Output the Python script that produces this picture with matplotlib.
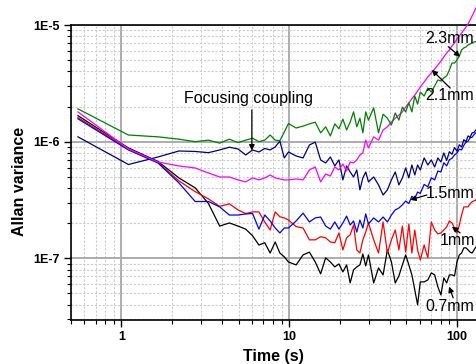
import matplotlib
matplotlib.use("Agg")
import matplotlib.pyplot as plt
from matplotlib.ticker import FixedLocator, NullFormatter, LogLocator

plt.rcParams['font.family'] = ['Liberation Sans', 'DejaVu Sans']

# ---------------- data (Allan variance in units of 1e-7) ----------------
SCALE = 1e-7

TAU = [0.55, 1.1, 1.65, 2.2, 2.75, 3.3, 3.85, 4.4, 4.95, 5.5,
       6.05, 6.6, 7.15, 7.7, 8.25, 8.8, 9.35, 9.9, 11, 12.1,
       13.2, 14.3, 15.4, 16.5, 17.6, 18.7, 19.8, 20.9, 22, 23.1,
       24.2, 25.3, 26.4, 27.5, 28.6, 29.7, 31.9, 34.1, 36.3, 38.5,
       40.7, 42.9, 45.1, 47.3, 49.5, 51.7, 53.9, 56.1, 58.3, 60.5,
       63.8, 67.1, 70.4, 73.7, 77, 80.3, 83.6, 86.9, 90.2, 93.5,
       96.8, 100.1, 103.4, 106.7, 110, 113.3, 116.6, 119.9, 123.2, 126.5,
       129.8]

mm07 = [16.7, 8.83, 6.77, 4.89, 4.02, 2.95, 1.89, 2.01, 1.89, 1.78,
        1.56, 1.30, 1.36, 1.11, 1.38, 1.11, 1.03, 0.93, 0.878, 1.07,
        1.13, 0.93, 0.736, 1.01, 0.93, 0.844, 0.895, 0.765, 0.878, 0.615,
        0.796, 0.844, 0.878, 1.09, 0.861, 1.07, 0.615, 0.828, 0.721, 1.18,
        0.93, 0.615, 0.707, 0.878, 1.07, 0.878, 0.721, 0.536, 0.399, 0.628,
        0.628, 0.653, 0.750, 0.721, 0.569, 0.486, 0.680, 0.615, 0.721, 0.721,
        0.707, 0.93, 1.07, 1.11, 1.23, 1.23, 1.18, 1.13, 1.11, 1.18,
        1.25]

mm10 = [16.1, 8.66, 6.63, 4.61, 3.73, 3.23, 2.79, 2.93, 2.60, 2.42,
        2.50, 2.50, 2.05, 1.75, 2.50, 2.27, 2.22, 2.13, 1.87, 1.82,
        1.44, 1.44, 1.53, 1.50, 1.38, 1.36, 1.65, 1.18, 1.50, 1.59,
        1.93, 1.18, 1.11, 1.44, 1.68, 2.01, 1.44, 1.11, 2.05, 1.11,
        1.44, 1.75, 1.18, 1.89, 1.13, 1.97, 1.11, 1.75, 1.18, 0.969,
        1.30, 1.01, 2.05, 1.75, 1.62, 1.65, 1.75, 1.86, 2.09, 2.01,
        1.82, 1.65, 1.93, 2.35, 2.76, 2.76, 2.76, 2.93, 3.05, 3.11,
        3.17]

mm15 = [15.7, 8.49, 6.57, 4.43, 3.07, 3.07, 2.76, 2.35, 2.35, 2.40,
        2.42, 1.78, 2.35, 2.09, 1.82, 1.65, 1.82, 1.82, 2.09, 2.44,
        2.05, 2.22, 2.26, 1.89, 1.78, 2.05, 1.78, 2.01, 2.30, 1.93,
        2.09, 1.68, 2.13, 1.82, 2.40, 1.97, 2.22, 2.05, 2.26, 2.05,
        2.35, 2.60, 2.70, 2.87, 3.10, 2.95, 3.40, 3.25, 3.70, 3.60,
        4.30, 4.10, 4.90, 4.70, 5.60, 5.50, 6.60, 6.20, 7.00, 7.20,
        7.70, 8.00, 8.60, 8.50, 9.30, 9.90, 10.1, 10.8, 10.9, 11.5,
        11.9]

focusing = [11.0, 6.37, 7.39, 8.32, 8.24, 8.05, 8.49, 8.96, 8.66, 7.69,
            8.49, 8.16, 8.74, 8.49, 9.01, 10.1, 7.25, 8.16, 7.54, 7.25,
            9.37, 9.90, 6.97, 6.57, 7.39, 6.19, 6.97, 4.70, 6.19, 5.50,
            4.98, 5.72, 3.86, 4.89, 5.50, 4.52, 4.98, 4.26, 3.49, 3.86,
            4.70, 5.50, 4.26, 4.89, 5.95, 4.89, 6.31, 5.18, 6.31, 5.72,
            7.25, 6.31, 6.97, 6.07, 7.25, 6.70, 8.0, 6.9, 8.2, 7.8,
            8.9, 8.3, 9.4, 9.0, 10.4, 10.0, 11.2, 10.9, 11.9, 12.0,
            12.6]

mm21 = [18.0, 8.66, 6.70, 6.19, 5.95, 5.39, 4.98, 4.98, 4.70, 4.52,
        4.89, 4.70, 4.89, 5.18, 4.89, 4.79, 4.70, 4.70, 4.79, 4.70,
        5.72, 6.07, 4.52, 5.28, 5.08, 6.07, 5.72, 6.44, 5.61, 6.70,
        6.57, 6.97, 7.69, 8.00, 10.3, 8.83, 11.0, 10.3, 12.6, 13.4,
        14.7, 15.9, 16.9, 18.0, 19.8, 21.5, 23.3, 25.1, 27.2, 29.4,
        32.5, 35.9, 38.8, 42.0, 45.4, 49.1, 53.2, 57.5, 61.1, 66.1,
        70.1, 75.9, 80.5, 85.4, 90.6, 96.1, 102, 110.4, 119.4, 129.3,
        139.9]

mm23 = [19.1, 11.4, 11.0, 10.5, 10.0, 10.3, 9.71, 10.5, 9.81, 10.3,
        10.7, 10.0, 10.3, 11.4, 10.3, 10.2, 12.1, 14.3, 13.1, 13.6,
        14.2, 14.7, 11.9, 13.4, 11.2, 14.2, 12.9, 15.6, 12.6, 14.7,
        18.0, 13.4, 15.9, 11.9, 18.0, 15.3, 19.5, 11.9, 17.2, 15.9,
        13.9, 17.6, 15.3, 19.8, 18.0, 21.5, 18.0, 24.6, 21.0, 26.6,
        24.6, 28.8, 26.6, 30.0, 33.8, 33.1, 35.2, 36.6, 41.2, 47.2,
        47.2, 50.1, 54.2, 61.1, 63.6, 64.8, 67.4, 68.7, 70.1, 71.5,
        72.0]

SERIES = [
    ("0.7mm", mm07, "#000000", True),
    ("1mm", mm10, "#ff0000", True),
    ("1.5mm", mm15, "#0000ff", True),
    ("Focusing coupling", focusing, "#000080", True),
    ("2.1mm", mm21, "#ff00ff", False),
    ("2.3mm", mm23, "#008000", True),
]

X_TICKS = [1, 10, 100]
X_TICKLABELS = ["1", "10", "100"]
Y_TICKS = [1e-7, 1e-6, 1e-5]
Y_TICKLABELS = ["1E-7", "1E-6", "1E-5"]

# ---------------- figure ----------------
fig = plt.figure(figsize=(4.76, 3.64), dpi=100)
ax = fig.add_axes([71 / 476, 1 - 320 / 364, 405 / 476, 295 / 364])
ax.set_xscale("log")
ax.set_yscale("log")
ax.set_xlim(0.5, 130)
ax.set_ylim(2.96e-8, 1e-5)

for name, vals, col, clip in SERIES:
    ax.plot(TAU, [v * SCALE for v in vals], color=col, lw=0.9, clip_on=clip, zorder=3)

# ticks
ax.xaxis.set_major_locator(FixedLocator(X_TICKS))
ax.set_xticklabels(X_TICKLABELS)
ax.xaxis.set_minor_locator(LogLocator(base=10, subs=range(2, 10)))
ax.xaxis.set_minor_formatter(NullFormatter())
ax.yaxis.set_major_locator(FixedLocator(Y_TICKS))
ax.set_yticklabels(Y_TICKLABELS)
ax.yaxis.set_minor_locator(LogLocator(base=10, subs=range(2, 10)))
ax.yaxis.set_minor_formatter(NullFormatter())

ax.tick_params(which="major", direction="out", length=5, width=1.0,
               labelsize=9, pad=3, top=False, right=False)
ax.tick_params(which="minor", direction="out", length=3, width=0.8,
               top=False, right=False)
for lab in ax.get_xticklabels() + ax.get_yticklabels():
    lab.set_fontweight("bold")

# grid
ax.set_axisbelow(True)
ax.grid(which="major", color="#a6a6a6", lw=1.3, ls="-")
ax.grid(which="minor", color="#cccccc", lw=0.8, ls=(0, (2, 1.5)))

# spines
for s in ["left", "bottom", "top"]:
    ax.spines[s].set_linewidth(1.2)
    ax.spines[s].set_color("black")
ax.spines["right"].set_visible(False)

ax.set_xlabel("Time (s)", fontsize=11.5, fontweight="bold", va="center")
ax.set_ylabel("Allan variance", fontsize=11.5, fontweight="bold", va="center")
ax.xaxis.set_label_coords(0.5, -0.124)
ax.yaxis.set_label_coords(-0.128, 0.47)

# annotations
arrow = dict(arrowstyle="-|>", color="black", lw=0.9, mutation_scale=8,
             shrinkA=0, shrinkB=0)
ax.text(5.69, 2.36e-6, "Focusing coupling", fontsize=11.5, ha="center", va="center", zorder=5)
ax.annotate("", xy=(5.99, 8.4e-7), xytext=(5.99, 1.87e-6), arrowprops=arrow, zorder=5)

ax.text(89.9, 7.59e-6, "2.3mm", fontsize=11.5, ha="center", va="center", zorder=5)
ax.annotate("", xy=(104.6, 5.35e-6), xytext=(88.8, 6.52e-6), arrowprops=arrow, zorder=5)

ax.text(89.9, 2.47e-6, "2.1mm", fontsize=11.5, ha="center", va="center", zorder=5)
ax.annotate("", xy=(70.9, 4.12e-6), xytext=(91.2, 2.88e-6), arrowprops=arrow, zorder=5)

ax.text(91.2, 3.63e-7, "1.5mm", fontsize=11.5, ha="center", va="center", zorder=5)
ax.annotate("", xy=(52.7, 3.17e-7), xytext=(66.2, 3.49e-7), arrowprops=arrow, zorder=5)

ax.text(100.4, 1.41e-7, "1mm", fontsize=11.5, ha="center", va="center", zorder=5)
ax.annotate("", xy=(93.4, 1.87e-7), xytext=(104.6, 1.65e-7), arrowprops=arrow, zorder=5)

ax.text(91.2, 3.83e-8, "0.7mm", fontsize=11.5, ha="center", va="center", zorder=5)
ax.annotate("", xy=(89.9, 5.72e-8), xytext=(95.0, 4.58e-8), arrowprops=arrow, zorder=5)

fig.savefig("out.png", dpi=100)
